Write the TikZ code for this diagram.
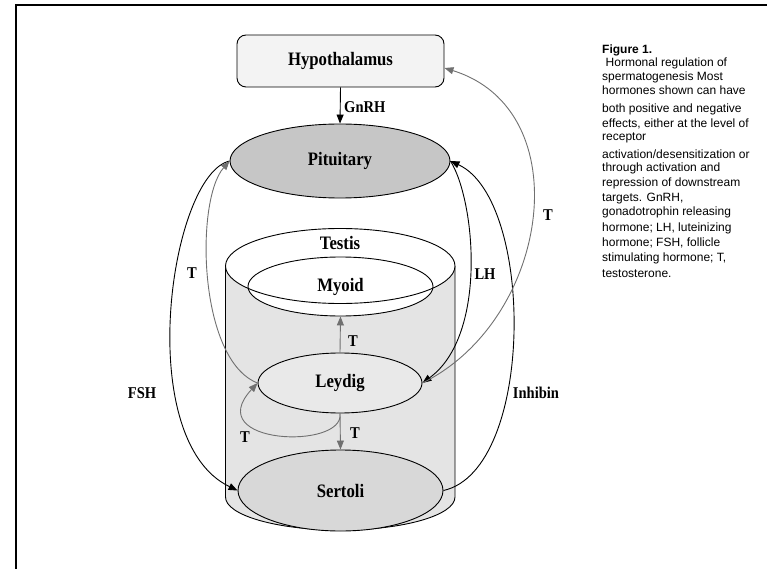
\documentclass[tikz,border=0pt]{standalone}
\usepackage{fontspec}
\setmainfont{Liberation Serif}[FakeStretch=0.88]
\newfontfamily\capfont{Liberation Sans}
\usetikzlibrary{arrows.meta,shapes.geometric}
\definecolor{cylfill}{HTML}{E4E4E4}
\definecolor{hypfill}{HTML}{F3F3F3}
\definecolor{pitfill}{HTML}{C6C6C6}
\definecolor{leyfill}{HTML}{E9E9E9}
\definecolor{serfill}{HTML}{D8D8D8}
\definecolor{arrgray}{HTML}{707070}
\begin{document}
\begin{tikzpicture}[x=1pt,y=-1pt,
  organ/.style={font=\fontsize{19}{21}\selectfont\bfseries, inner sep=0pt},
  ell/.style={organ, ellipse, draw, line width=0.9pt},
  lab/.style={font=\fontsize{16.5}{18}\selectfont\bfseries, inner sep=1pt},
  blk/.style={draw=black, line width=0.9pt, -{Triangle[length=9pt,width=7pt]}},
  gry/.style={draw=arrgray, line width=0.9pt, -{Triangle[length=9pt,width=7pt]}},
  capline/.style={font=\capfont\fontsize{12}{14}\selectfont, anchor=base west, inner sep=0pt}]
\useasboundingbox (0,0) rectangle (767,569);
% frame
\draw[line width=2.6pt] (16,569) -- (16,5) -- (767,5);
% hypothalamus
\node[organ, draw, fill=hypfill, rounded corners=9pt, line width=0.9pt,
  minimum width=207pt, minimum height=52pt] (hyp) at (340.5,61) {Hypothalamus};
% pituitary
\node[ell, fill=pitfill, minimum width=220pt, minimum height=74pt] (pit) at (340,161) {Pituitary};
% testis cylinder
\filldraw[fill=cylfill, line width=0.9pt] (225.5,266) -- (225.5,497)
  arc[start angle=180, end angle=360, x radius=114.75pt, y radius=33pt] -- (455,266);
\fill[white] (340.25,266) ellipse [x radius=114.75pt, y radius=37.5pt];
\node[ell, fill=white, minimum width=185pt, minimum height=59pt] (myo) at (340.5,286.5) {\raisebox{-3pt}{Myoid}};
\draw[line width=0.9pt] (340.25,266) ellipse [x radius=114.75pt, y radius=37.5pt];
\node[organ] (tes) at (340,243) {Testis};
\node[ell, fill=leyfill, minimum width=164pt, minimum height=60pt] (ley) at (340,383) {Leydig};
\node[ell, fill=serfill, minimum width=205pt, minimum height=81pt] (ser) at (340.5,490.5) {Sertoli};
% connectors
\draw[blk] (hyp.south) -- (pit.north);
\node[lab, anchor=west] (gnrh) at (343,107) {GnRH};
\draw[gry] (ley.north) -- (myo.south);
\node[lab] (tup) at (353,341) {T};
\draw[gry] (ley.south) -- (ser.north);
\node[lab] (tdn) at (355,433) {T};
\draw[gry] (ley.south) .. controls (345,450) and (200,445) .. (ley.west);
\node[lab] (tloop) at (245,437) {T};
\draw[blk] (pit.west) .. controls (170,175) and (132,440) .. (ser.west);
\node[lab] (fsh) at (142,393) {FSH};
\draw[gry] (ley.west) .. controls (198,360) and (195,200) .. (pit.west);
\node[lab] (tl) at (192,273) {T};
\draw[blk] (pit.east) .. controls (475,200) and (488,335) .. (ley.east);
\node[lab] (lh) at (485,274) {LH};
\draw[blk] (ser.east) .. controls (535,470) and (535,200) .. (pit.east);
\node[lab] (inh) at (536,393) {Inhibin};
\draw[gry] (ley.east) .. controls (550,320) and (580,110) .. ([yshift=-7pt]hyp.east);
\node[lab] (tr) at (548,215) {T};
% caption
\node[capline, font=\capfont\bfseries\fontsize{12}{14}\selectfont] (c0) at (602,54) {Figure 1.};
\node[capline] (c1) at (602,67) {\hspace{3.5pt}Hormonal regulation of};
\node[capline] (c2) at (602,81) {spermatogenesis Most};
\node[capline] (c3) at (602,95) {hormones shown can have};
\node[capline] (c4) at (602,113) {both positive and negative};
\node[capline] (c5) at (602,128) {effects, either at the level of};
\node[capline] (c6) at (602,141) {receptor};
\node[capline] (c7) at (602,159) {activation/desensitization or};
\node[capline] (c8) at (602,172) {through activation and};
\node[capline] (c9) at (602,187) {repression of downstream};
\node[capline] (c10) at (602,202) {targets. GnRH,};
\node[capline] (c11) at (602,215) {gonadotrophin releasing};
\node[capline] (c12) at (602,231) {hormone; LH, luteinizing};
\node[capline] (c13) at (602,246) {hormone; FSH, follicle};
\node[capline] (c14) at (602,261) {stimulating hormone; T,};
\node[capline] (c15) at (602,277) {testosterone.};
\end{tikzpicture}
\end{document}
